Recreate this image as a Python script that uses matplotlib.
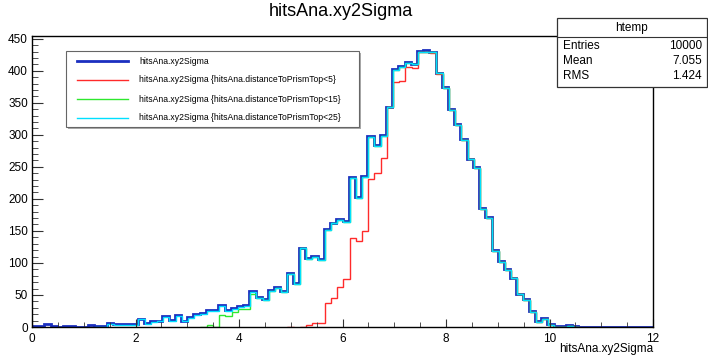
import matplotlib.pyplot as plt
import matplotlib.patches as patches
from matplotlib.lines import Line2D
from matplotlib.transforms import offset_copy
import numpy as np

plt.rcParams['font.family'] = ['Liberation Sans', 'DejaVu Sans']

# 100 bins from 0 to 12
edges = np.linspace(0, 12, 101)

h_all = [2, 2, 4, 1, 0, 2, 1, 0, 0, 3,
         2, 2, 6, 4, 4, 4, 4, 13, 6, 9,
         10, 17, 11, 18, 10, 15, 20, 22, 26, 26,
         34, 26, 30, 32, 34, 56, 47, 44, 58, 62,
         56, 84, 69, 124, 108, 111, 106, 153, 163, 168,
         165, 234, 203, 236, 298, 284, 300, 344, 403, 407,
         413, 411, 431, 433, 430, 397, 374, 340, 317, 293,
         263, 249, 186, 172, 120, 103, 91, 77, 52, 43,
         25, 9, 14, 4, 2, 2, 3, 1, 0, 0,
         0, 0, 0, 0, 0, 0, 0, 0, 0, 0]

h_lt5 = [0, 0, 0, 0, 0, 0, 0, 0, 0, 0,
         0, 0, 0, 0, 0, 0, 0, 0, 0, 0,
         0, 0, 0, 0, 0, 0, 0, 0, 0, 0,
         0, 0, 0, 0, 0, 0, 0, 0, 0, 0,
         0, 1, 0, 1, 5, 8, 8, 38, 46, 64,
         76, 140, 135, 151, 233, 242, 265, 344, 384, 385,
         407, 405, 430, 431, 429, 396, 374, 340, 317, 293,
         263, 249, 186, 172, 120, 103, 91, 77, 52, 43,
         25, 9, 14, 4, 2, 2, 3, 1, 0, 0,
         0, 0, 0, 0, 0, 0, 0, 0, 0, 0]

h_lt15 = [0, 0, 0, 0, 0, 0, 0, 0, 0, 0,
          0, 0, 0, 0, 0, 0, 0, 0, 0, 0,
          0, 0, 0, 0, 0, 0, 0, 2, 5, 2,
          20, 18, 24, 30, 30, 52, 47, 44, 58, 62,
          56, 84, 69, 124, 108, 111, 106, 153, 163, 168,
          165, 234, 203, 236, 298, 284, 300, 344, 403, 407,
          413, 411, 431, 431, 430, 397, 374, 340, 317, 293,
          263, 249, 186, 172, 120, 103, 91, 77, 52, 43,
          25, 9, 14, 4, 2, 2, 3, 1, 0, 0,
          0, 0, 0, 0, 0, 0, 0, 0, 0, 0]

h_lt25 = [0, 0, 0, 0, 0, 0, 0, 0, 0, 0,
          2, 2, 6, 4, 4, 4, 4, 13, 6, 9,
          10, 17, 11, 18, 10, 15, 20, 22, 26, 26,
          34, 26, 30, 32, 34, 56, 47, 44, 58, 62,
          56, 84, 69, 124, 108, 111, 106, 153, 163, 168,
          165, 234, 203, 236, 298, 284, 300, 344, 403, 407,
          413, 411, 431, 431, 430, 397, 374, 340, 317, 293,
          263, 249, 186, 172, 120, 103, 91, 77, 52, 43,
          25, 9, 14, 4, 2, 2, 3, 1, 0, 0,
          0, 0, 0, 0, 0, 0, 0, 0, 0, 0]

labels = ["hitsAna.xy2Sigma",
          "hitsAna.xy2Sigma {hitsAna.distanceToPrismTop<5}",
          "hitsAna.xy2Sigma {hitsAna.distanceToPrismTop<15}",
          "hitsAna.xy2Sigma {hitsAna.distanceToPrismTop<25}"]
colors = ["#1b2fc0", "#ff2a2a", "#2ee82e", "#00e0ff"]

stats_names = ["Entries", "Mean", "RMS"]
stats_values = ["10000", "7.055", "1.424"]

W, H = 708, 360


def fx(x):
    return x / W


def fy(y):
    return 1 - y / H


fig = plt.figure(figsize=(W / 100, H / 100), dpi=100)
ax = fig.add_axes([fx(32), fy(327), (653 - 32) / W, (327 - 35.5) / H])

# overlays are drawn a hair off the first histogram, like the antialiased ROOT output
shift = offset_copy(ax.transData, fig=fig, x=0.8, y=-0.8, units='dots')
ax.stairs(h_all, edges, color=colors[0], lw=2.0)
ax.stairs(h_lt5, edges, color=colors[1], lw=1.0, transform=shift)
ax.stairs(h_lt15, edges, color=colors[2], lw=1.0, transform=shift)
ax.stairs(h_lt25, edges, color=colors[3], lw=1.0, transform=shift)

ax.set_xlim(0, 12)
ax.set_ylim(0, 455)
ax.set_xticks(np.arange(0, 13, 2))
ax.set_xticks(np.arange(0, 12.01, 0.5), minor=True)
ax.set_yticks(np.arange(0, 451, 50))
ax.set_yticks(np.arange(0, 451, 10), minor=True)
ax.tick_params(axis='both', which='both', direction='in', labelsize=8.5, colors='#333333', labelcolor='black')
ax.tick_params(axis='x', which='major', length=6, pad=4)
ax.tick_params(axis='x', which='minor', length=3.5)
ax.tick_params(axis='y', which='major', length=8, pad=3)
ax.tick_params(axis='y', which='minor', length=4)
for s in ax.spines.values():
    s.set_linewidth(1.0)

fig.text(fx(341), fy(12), "hitsAna.xy2Sigma", ha='center', va='center', fontsize=13)
fig.text(fx(653), fy(349), "hitsAna.xy2Sigma", ha='right', va='center', fontsize=8.5)

# legend box
fig.patches.append(patches.Rectangle((fx(68), fy(129)), (359 - 66) / W, (127 - 51) / H,
                                     transform=fig.transFigure, facecolor='#aaaaaa', edgecolor='none'))
fig.patches.append(patches.Rectangle((fx(66), fy(127)), (359 - 66) / W, (127 - 51) / H,
                                     transform=fig.transFigure, facecolor='white', edgecolor='#666666', lw=0.8))
for i, (lab, c) in enumerate(zip(labels, colors)):
    y = 61 + i * 19
    fig.lines.append(Line2D([fx(77), fx(128)], [fy(y), fy(y)], transform=fig.transFigure,
                            color=c, lw=2.0 if i == 0 else 1.0))
    fig.text(fx(139), fy(y), lab, ha='left', va='center', fontsize=6.2)

# stats box
fig.patches.append(patches.Rectangle((fx(557), fy(87)), (707 - 557) / W, (87 - 18) / H,
                                     transform=fig.transFigure, facecolor='white', edgecolor='#333333', lw=0.9))
fig.lines.append(Line2D([fx(557), fx(707)], [fy(37), fy(37)], transform=fig.transFigure, color='#333333', lw=0.8))
fig.text(fx(632), fy(27.5), "htemp", ha='center', va='center', fontsize=8.5)
for i, (n, v) in enumerate(zip(stats_names, stats_values)):
    y = 46 + i * 15
    fig.text(fx(563), fy(y), n, ha='left', va='center', fontsize=8.5)
    fig.text(fx(702), fy(y), v, ha='right', va='center', fontsize=8.5)

plt.savefig("out.png", dpi=100)
